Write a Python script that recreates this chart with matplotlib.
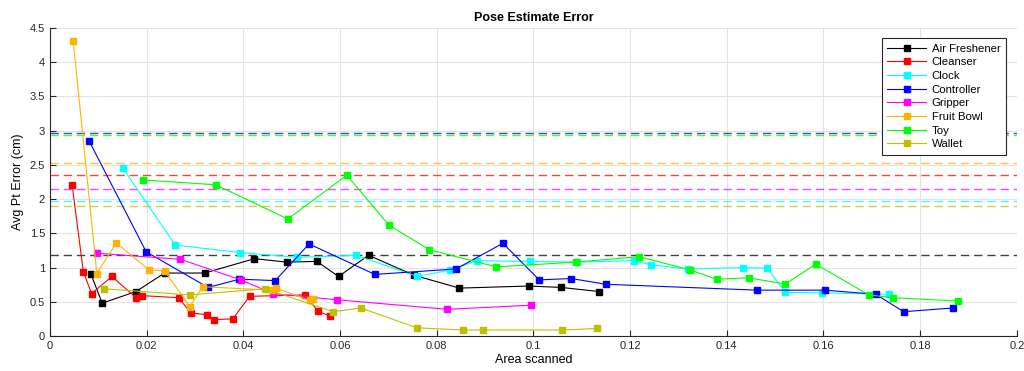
import matplotlib
matplotlib.use('Agg')
import matplotlib.pyplot as plt

plt.rcParams['font.family'] = ['Liberation Sans', 'DejaVu Sans']

# Data
fresh_x = [0.0085, 0.0108, 0.0178, 0.0237, 0.0320, 0.0423, 0.0490, 0.0552, 0.0597, 0.0659, 0.0752, 0.0847, 0.0990, 0.1057, 0.1136]
fresh_y = [0.90, 0.48, 0.65, 0.92, 0.92, 1.13, 1.08, 1.09, 0.87, 1.18, 0.89, 0.70, 0.73, 0.71, 0.65]

cleanser_x = [0.0046, 0.0069, 0.0086, 0.0128, 0.0178, 0.0190, 0.0266, 0.0291, 0.0324, 0.0339, 0.0378, 0.0413, 0.0527, 0.0555, 0.0580]
cleanser_y = [2.20, 0.94, 0.62, 0.87, 0.56, 0.59, 0.56, 0.34, 0.31, 0.24, 0.25, 0.58, 0.60, 0.36, 0.29]

clock_x = [0.0151, 0.0259, 0.0393, 0.0512, 0.0633, 0.0760, 0.0828, 0.0883, 0.0993, 0.1091, 0.1208, 0.1244, 0.1319, 0.1433, 0.1484, 0.1521, 0.1598, 0.1735]
clock_y = [2.45, 1.33, 1.22, 1.15, 1.18, 0.87, 0.965, 1.10, 1.09, 1.08, 1.10, 1.04, 0.98, 1.00, 0.99, 0.64, 0.63, 0.61]

ctrl_x = [0.0081, 0.0199, 0.0327, 0.0392, 0.0466, 0.0536, 0.0672, 0.0840, 0.0937, 0.1012, 0.1078, 0.1150, 0.1463, 0.1603, 0.1708, 0.1766, 0.1868]
ctrl_y = [2.85, 1.23, 0.71, 0.83, 0.81, 1.345, 0.90, 0.98, 1.355, 0.82, 0.84, 0.756, 0.67, 0.67, 0.61, 0.355, 0.41]

grip_x = [0.0098, 0.0270, 0.0395, 0.0461, 0.0593, 0.0822, 0.0995]
grip_y = [1.21, 1.12, 0.82, 0.62, 0.53, 0.39, 0.45]

bowl_x = [0.0048, 0.0097, 0.0137, 0.0205, 0.0237, 0.0289, 0.0316, 0.0460, 0.0468, 0.0537, 0.0545]
bowl_y = [4.31, 0.91, 1.36, 0.965, 0.955, 0.43, 0.72, 0.67, 0.70, 0.52, 0.535]

toy_x = [0.0192, 0.0343, 0.0492, 0.0614, 0.0701, 0.0785, 0.0923, 0.1088, 0.1219, 0.1324, 0.1379, 0.1445, 0.1521, 0.1584, 0.1694, 0.1744, 0.1878]
toy_y = [2.28, 2.21, 1.71, 2.35, 1.62, 1.26, 1.01, 1.08, 1.16, 0.965, 0.83, 0.85, 0.76, 1.05, 0.60, 0.56, 0.51]

wallet_x = [0.0112, 0.0289, 0.0445, 0.0586, 0.0643, 0.0759, 0.0854, 0.0895, 0.1059, 0.1132]
wallet_y = [0.69, 0.60, 0.69, 0.355, 0.41, 0.12, 0.088, 0.088, 0.088, 0.11]

# reference (dashed) levels per object
labels = ['Air Freshener', 'Cleanser', 'Clock', 'Controller', 'Gripper', 'Fruit Bowl', 'Toy', 'Wallet']
colors = ['#000000', '#ff0000', '#00ffff', '#0000ff', '#ff00ff', '#ffb300', '#00ff00', '#bfbf00']
ref_levels = [1.18, 2.35, 1.97, 2.97, 2.145, 2.53, 2.93, 1.90]

series = [(fresh_x, fresh_y), (cleanser_x, cleanser_y), (clock_x, clock_y), (ctrl_x, ctrl_y),
          (grip_x, grip_y), (bowl_x, bowl_y), (toy_x, toy_y), (wallet_x, wallet_y)]

fig = plt.figure(figsize=(10.24, 3.71), dpi=100)
ax = fig.add_axes([0.0488, 0.0943, 0.9442, 0.8302])

for (xs, ys), lab, c in zip(series, labels, colors):
    ax.plot(xs, ys, '-s', color=c, lw=0.8, ms=5, mfc=c, mec=c, label=lab)

for lvl, c in zip(ref_levels, colors):
    ax.axhline(lvl, color=c, ls=(0, (6, 3.5)), lw=1.0, alpha=0.75, zorder=1)

ax.set_xlim(0, 0.2)
ax.set_ylim(0, 4.5)
ax.set_xticks([0, 0.02, 0.04, 0.06, 0.08, 0.1, 0.12, 0.14, 0.16, 0.18, 0.2])
ax.set_xticklabels(['0', '0.02', '0.04', '0.06', '0.08', '0.1', '0.12', '0.14', '0.16', '0.18', '0.2'])
ax.set_yticks([0, 0.5, 1, 1.5, 2, 2.5, 3, 3.5, 4, 4.5])
ax.set_yticklabels(['0', '0.5', '1', '1.5', '2', '2.5', '3', '3.5', '4', '4.5'])
ax.tick_params(direction='in', length=4, labelsize=8, colors='#262626', width=0.8)
ax.grid(True, color='#e3e3e3', lw=0.8)
ax.set_axisbelow(True)
for side in ['top', 'right']:
    ax.spines[side].set_visible(False)
for side in ['left', 'bottom']:
    ax.spines[side].set_color('#262626')
    ax.spines[side].set_linewidth(0.8)

ax.set_title('Pose Estimate Error', fontsize=9, fontweight='bold', pad=5)
ax.set_xlabel('Area scanned', fontsize=9, labelpad=2)
ax.set_ylabel('Avg Pt Error (cm)', fontsize=9, labelpad=4)

leg = ax.legend(loc='upper right', bbox_to_anchor=(0.989, 0.9675), borderaxespad=0, fontsize=8.2,
                fancybox=False, edgecolor='#262626', framealpha=1, handlelength=3.4,
                labelspacing=0.32, borderpad=0.5, handletextpad=0.5)
leg.get_frame().set_linewidth(0.8)

fig.savefig('out.png', dpi=100)
